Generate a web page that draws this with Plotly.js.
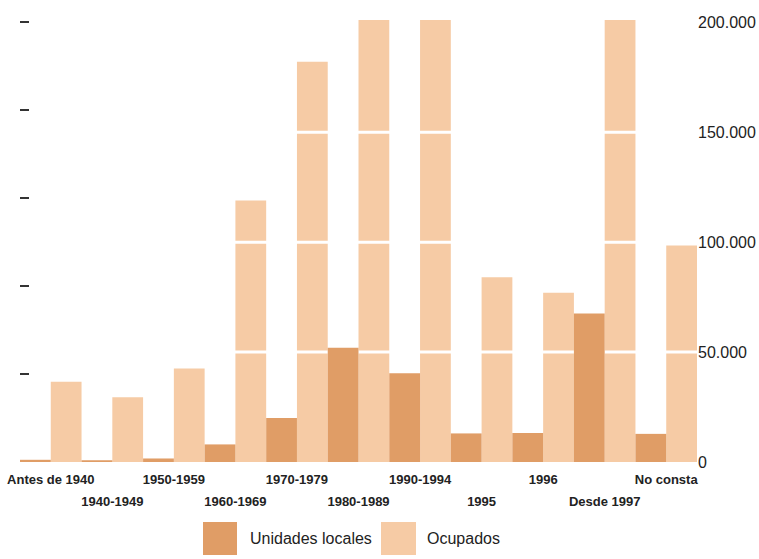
<!DOCTYPE html>
<html>
<head>
<meta charset="utf-8">
<script src="https://cdn.plot.ly/plotly-3.0.1.min.js"></script>
<style>html,body{margin:0;padding:0;background:#fff}#chart{width:759px;height:559px}</style>
</head>
<body>
<div id="chart"></div>
<script>
const categories = ['Antes de 1940','1940-1949','1950-1959','1960-1969','1970-1979','1980-1989','1990-1994','1995','1996','Desde 1997','No consta'];
const unidadesLocales = [250, 200, 400, 2000, 5000, 13000, 10100, 3250, 3300, 16900, 3200];
const ocupados = [36500, 29500, 42500, 119000, 182000, 201000, 201000, 84000, 77000, 201000, 98500];
const rightTicks = [0, 50000, 100000, 150000, 200000];
const gridValues = [50000, 100000, 150000];
const seriesNames = ['Unidades locales', 'Ocupados'];

const colUnid = '#E09D66';
const colOcup = '#F6CBA5';
const FONT = 'Liberation Sans, Arial, Helvetica, sans-serif';

const W = 759, H = 559;
const M = {l: 20, r: 62, t: 19, b: 97};
const pw = W - M.l - M.r, ph = H - M.t - M.b;
const px = x => (x - M.l) / pw;
const py = y => (H - M.b - y) / ph;

const idx = categories.map((c, i) => i);
const evenIdx = idx.filter(i => i % 2 === 0);
const oddIdx = idx.filter(i => i % 2 === 1);
const xr = [-0.5, categories.length - 0.5];

const gx = [], gy = [];
gridValues.forEach(v => { gx.push(xr[0], xr[1], null); gy.push(v, v, null); });

const traces = [
  {type: 'bar', name: seriesNames[1], x: idx, y: ocupados, xaxis: 'x', yaxis: 'y',
   width: 0.5, offset: 0, marker: {color: colOcup, line: {width: 0}}, showlegend: false},
  {type: 'scatter', mode: 'lines', x: gx, y: gy, xaxis: 'x', yaxis: 'y',
   line: {color: '#ffffff', width: 3}, hoverinfo: 'skip', showlegend: false},
  {type: 'bar', name: seriesNames[0], x: idx, y: unidadesLocales, xaxis: 'x2', yaxis: 'y2',
   width: 0.5, offset: -0.5, marker: {color: colUnid, line: {width: 0}}, showlegend: false}
];

const yTop = 201500;
const tickFontX = {size: 13, family: FONT, color: '#222', weight: 'bold'};
const layout = {
  width: W, height: H,
  margin: M,
  paper_bgcolor: '#ffffff', plot_bgcolor: 'rgba(0,0,0,0)',
  separators: ',.',
  font: {family: FONT, color: '#222'},
  showlegend: false,
  xaxis: {type: 'linear', range: xr, tickmode: 'array', tickvals: evenIdx,
    ticktext: evenIdx.map(i => categories[i]), showgrid: false, zeroline: false, showline: false,
    ticks: '', ticklabelstandoff: 8, tickfont: tickFontX, anchor: 'y', fixedrange: true},
  xaxis2: {type: 'linear', range: xr, overlaying: 'x', side: 'bottom', tickmode: 'array', tickvals: oddIdx,
    ticktext: oddIdx.map(i => categories[i]), showgrid: false, zeroline: false, showline: false,
    ticks: '', ticklabelstandoff: 30, tickfont: tickFontX, anchor: 'y2', fixedrange: true},
  yaxis: {side: 'right', range: [0, yTop], tickmode: 'array', tickvals: rightTicks, tickformat: ',d',
    showgrid: false, zeroline: false, showline: false, ticks: '', ticklabelstandoff: 0,
    tickfont: {size: 16, family: FONT, color: '#222'}, fixedrange: true},
  yaxis2: {side: 'left', overlaying: 'y', range: [0, 50000 * yTop / 200000], tickmode: 'linear', tick0: 0, dtick: 10000,
    showticklabels: false, ticks: 'inside', ticklen: 9, tickwidth: 2, tickcolor: '#333',
    showgrid: false, zeroline: false, showline: false, fixedrange: true},
  shapes: [
    {type: 'rect', xref: 'paper', yref: 'paper', x0: px(203), x1: px(237), y0: py(555), y1: py(522),
     fillcolor: colUnid, line: {width: 0}},
    {type: 'rect', xref: 'paper', yref: 'paper', x0: px(381), x1: px(416), y0: py(555), y1: py(522),
     fillcolor: colOcup, line: {width: 0}}
  ],
  annotations: [
    {xref: 'paper', yref: 'paper', x: px(248), y: py(538), xanchor: 'left', yanchor: 'middle',
     text: seriesNames[0], showarrow: false, font: {size: 16, family: FONT, color: '#222'}},
    {xref: 'paper', yref: 'paper', x: px(425), y: py(538), xanchor: 'left', yanchor: 'middle',
     text: seriesNames[1], showarrow: false, font: {size: 16, family: FONT, color: '#222'}}
  ]
};

Plotly.newPlot('chart', traces, layout, {displayModeBar: false, staticPlot: true});
</script>
</body>
</html>
